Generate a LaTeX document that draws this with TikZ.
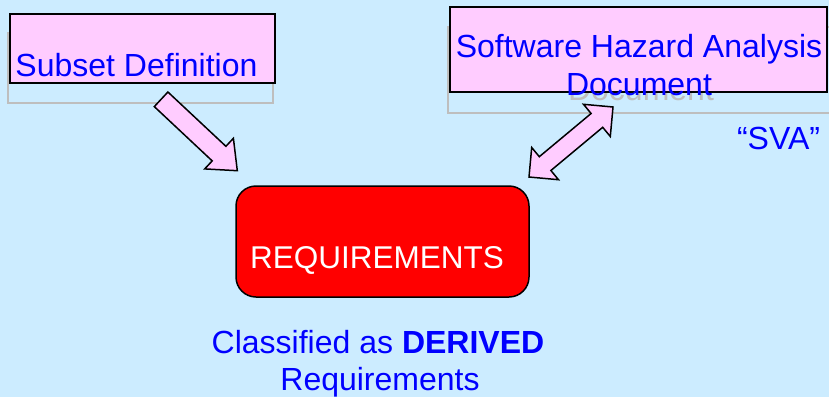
\documentclass[tikz,border=0pt]{standalone}
\usepackage{fontspec}
\setmainfont{Liberation Sans}
\definecolor{bgblue}{RGB}{204,236,255}
\definecolor{pinkbox}{RGB}{255,204,255}
\definecolor{shadowgray}{RGB}{190,190,190}
\definecolor{txtblue}{RGB}{0,0,255}
\begin{document}
\begin{tikzpicture}[x=1pt,y=-1pt,
  lbl/.style={inner sep=0pt, outer sep=0pt, font=\fontsize{32}{38}\selectfont, text=txtblue},
  pinkrect/.style={draw=black, line width=1.5pt, fill=pinkbox},
  shadowrect/.style={draw=shadowgray, line width=2pt},
  blockarrow/.style={draw=black, line width=1.5pt, fill=pinkbox, line join=miter}]
\useasboundingbox[fill=bgblue] (0,0) rectangle (829,397);
% shadows
\draw[shadowrect] (8,33) rectangle (273,103);
\draw[shadowrect] (448,27) rectangle (840,113);
\node[lbl, anchor=base, text=shadowgray] (docshadow) at (641,100) {Document};
% pink boxes
\draw[pinkrect] (10,14) rectangle (275,83);
\draw[pinkrect] (450,7) rectangle (827,92);
\node[lbl, anchor=base west] (subset) at (15.5,76) {Subset Definition};
\node[lbl, anchor=base] (sha) at (639,57) {Software Hazard Analysis};
\node[lbl, anchor=base] (doc) at (639,95) {Document};
\node[lbl, anchor=base east] (sva) at (820,149) {“SVA”};
% requirements
\draw[draw=black, line width=1.5pt, fill=red, rounded corners=20pt] (236,186) rectangle (529,297);
\node[lbl, anchor=base, text=white, font=\fontsize{31.5}{38}\selectfont] (req) at (377,268) {REQUIREMENTS};
\node[lbl, anchor=base] (cls) at (378,353) {Classified as \textbf{DERIVED}};
\node[lbl, anchor=base] (reqs) at (380,390) {Requirements};
% arrows
\draw[blockarrow] (167.9,92.0) -- (225.9,146.3) -- (233.4,138.3) -- (237.3,170.7)
  -- (204.7,168.9) -- (212.2,160.9) -- (154.3,106.6) -- cycle;
\draw[blockarrow] (613,107) -- (610.3,136.5) -- (602.7,127.3) -- (550.9,170.5)
  -- (558.5,179.7) -- (529,177) -- (531.7,147.5) -- (539.3,156.7)
  -- (591.1,113.5) -- (583.5,104.3) -- cycle;
\end{tikzpicture}
\end{document}
